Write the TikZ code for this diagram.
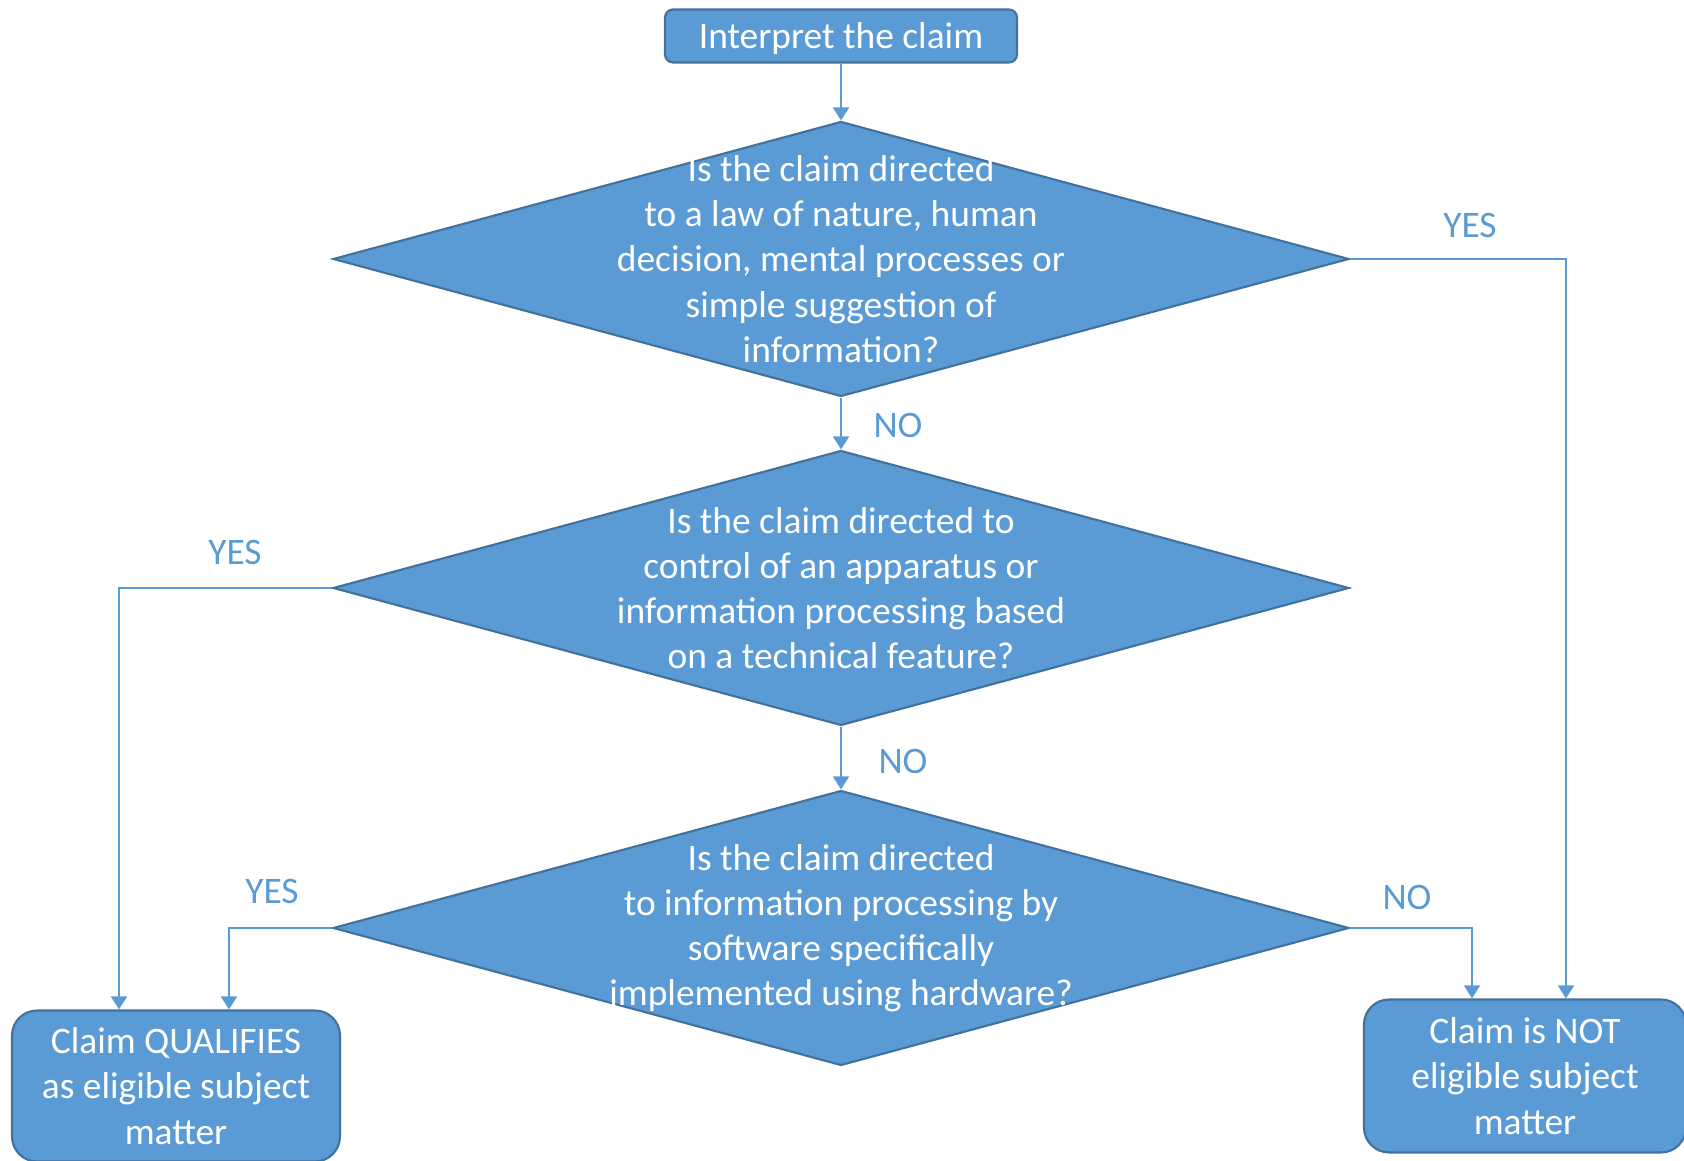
\documentclass[tikz,border=0pt]{standalone}
\usepackage{fontspec}
\setmainfont{Carlito}
\usetikzlibrary{shapes.geometric,arrows.meta}
\definecolor{boxblue}{HTML}{5B9BD5}
\definecolor{edgeblue}{HTML}{41719C}

\begin{document}
\begin{tikzpicture}[every node/.style={font=\fontsize{21.3}{25.7}\selectfont},
  box/.style={draw=edgeblue,line width=1.2pt,fill=boxblue,text=white,align=center,inner sep=0pt},
  question/.style={diamond,draw=edgeblue,line width=1.2pt,fill=boxblue,minimum width=20.32cm,minimum height=5.5cm,inner sep=0pt},
  qtext/.style={text=white,align=center,inner sep=0pt},
  conn/.style={draw=boxblue,line width=1.1pt,-{Triangle[length=0.26cm,width=0.32cm]}},
  answer/.style={text=boxblue}]
  \useasboundingbox (0,0) rectangle (33.68,23.22);
  \node[box,rounded corners=0.16cm,minimum width=7.04cm,minimum height=1.06cm,text depth=0pt] (start) at (16.82,22.5) {Interpret the claim};
  \node[question] (q1) at (16.82,18.04) {};
  \node[qtext] (q1txt) at (q1) {Is the claim directed\\to a law of nature, human\\decision, mental processes or\\simple suggestion of\\information?};
  \node[question] (q2) at (16.82,11.46) {};
  \node[qtext] (q2txt) at (q2) {Is the claim directed to\\control of an apparatus or\\information processing based\\on a technical feature?};
  \node[question] (q3) at (16.82,4.66) {};
  \node[qtext] (q3txt) at (q3) {Is the claim directed\\to information processing by\\software specifically\\implemented using hardware?};
  \node[box,rounded corners=0.5cm,minimum width=6.56cm,minimum height=3.02cm] (ok) at (3.52,1.5) {Claim QUALIFIES\\as eligible subject\\matter};
  \node[box,rounded corners=0.5cm,minimum width=6.44cm,minimum height=3.06cm] (notok) at (30.5,1.7) {Claim is NOT\\eligible subject\\matter};
  % connectors
  \draw[conn] (start.south) -- (q1.north);
  \draw[conn] (q1.south) -- (q2.north);
  \draw[conn] (q2.south) -- (q3.north);
  \draw[conn] (q1.east) -| ([xshift=0.82cm]notok.north);
  \draw[conn] (q3.east) -| ([xshift=-1.06cm]notok.north);
  \draw[conn] (q2.west) -| ([xshift=-1.14cm]ok.north);
  \draw[conn] (q3.west) -| ([xshift=1.06cm]ok.north);
  % answers
  \node[answer] (yes1) at (29.4,18.7) {YES};
  \node[answer] (no1) at (17.96,14.7) {NO};
  \node[answer] (yes2) at (4.7,12.18) {YES};
  \node[answer] (no2) at (18.06,8.0) {NO};
  \node[answer] (yes3) at (5.44,5.4) {YES};
  \node[answer] (no3) at (28.14,5.28) {NO};
\end{tikzpicture}
\end{document}
